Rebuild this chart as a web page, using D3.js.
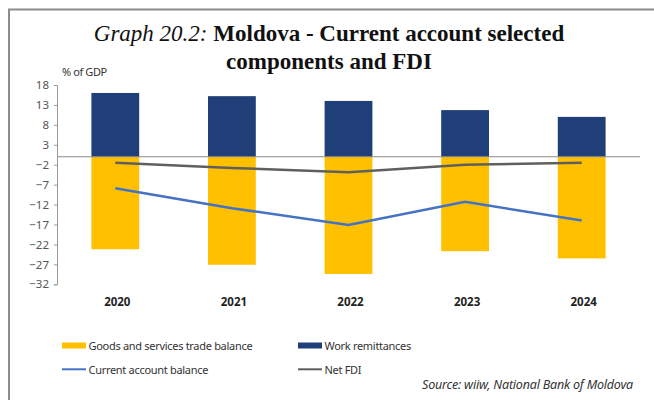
<!DOCTYPE html>
<html><head><meta charset="utf-8">
<script src="https://cdn.jsdelivr.net/npm/d3@7"></script>
<style>body{margin:0;background:#fff}svg{display:block}</style>
</head><body>
<svg id="c" width="654" height="400"></svg>
<script>
const years = ["2020","2021","2022","2023","2024"];
const tradeBalance = [-23.2, -27.1, -29.4, -23.7, -25.5];
const remittances = [16.0, 15.2, 14.0, 11.7, 10.0];
const currentAccount = [-7.9, -12.9, -17.1, -11.3, -16.0];
const netFDI = [-1.5, -2.8, -3.9, -2.0, -1.5];
const yTicks = [18, 13, 8, 3, -2, -7, -12, -17, -22, -27, -32];

(function(){
const svg = d3.select("#c");
const W = 654, H = 400;
const pLeft = 57, pRight = 640, pTop = 85, pBottom = 284.3;

// frame
svg.append("path").attr("d", `M9,${H} L9,9.5 L${W},9.5`).attr("fill","none").attr("stroke","#8c8c8c").attr("stroke-width",2);

// title
const serif = "'Liberation Serif', 'Times New Roman', serif";
const t1 = svg.append("text").attr("x", 329).attr("y", 41).attr("text-anchor","middle")
  .attr("font-family", serif).attr("font-size", 23).attr("fill","#111");
t1.append("tspan").attr("font-style","italic").text("Graph 20.2: ");
t1.append("tspan").attr("font-weight","bold").text("Moldova - Current account selected");
svg.append("text").attr("x", 329).attr("y", 69).attr("text-anchor","middle")
  .attr("font-family", serif).attr("font-size", 23)
  .attr("font-weight","bold").attr("fill","#111").text("components and FDI");

const lf = "'Noto Sans', sans-serif";
svg.append("text").attr("x", 62).attr("y", 76).attr("font-family", lf)
  .attr("font-size", 11).attr("fill","#333").attr("letter-spacing","-0.4").text("% of GDP");

const x = d3.scaleBand().domain(years).range([pLeft, pRight]).paddingInner(0.59).paddingOuter(0.295);
const y = d3.scaleLinear().domain([-32, 18]).range([pBottom, pTop]);

// bars
const g = svg.append("g");
g.selectAll("rect.tb").data(years).join("rect").attr("class","tb")
  .attr("x", d => x(d)).attr("width", x.bandwidth())
  .attr("y", y(0)).attr("height", (d,i) => y(tradeBalance[i]) - y(0)).attr("fill", "#FFC000");
g.selectAll("rect.wr").data(years).join("rect").attr("class","wr")
  .attr("x", d => x(d)).attr("width", x.bandwidth())
  .attr("y", (d,i) => y(remittances[i])).attr("height", (d,i) => y(0) - y(remittances[i])).attr("fill", "#203E78");

// zero line
svg.append("line").attr("x1", pLeft).attr("x2", pRight).attr("y1", y(0)).attr("y2", y(0))
  .attr("stroke","#8a8a8a").attr("stroke-width",1.2);

// lines
const line = d3.line().x((d,i) => x(years[i]) + x.bandwidth()/2).y(d => y(d));
svg.append("path").datum(netFDI).attr("d", line).attr("fill","none").attr("stroke","#5f5f5f").attr("stroke-width",2.5);
svg.append("path").datum(currentAccount).attr("d", line).attr("fill","none").attr("stroke","#4472C4").attr("stroke-width",2.5);

// y axis
const ya = svg.append("g").attr("transform", `translate(${pLeft},0)`)
  .call(d3.axisLeft(y).tickValues(yTicks).tickSize(3).tickSizeOuter(3));
ya.select(".domain").attr("stroke","#999");
ya.selectAll(".tick line").attr("stroke","#999");
ya.selectAll("text").attr("font-family", lf).attr("font-size", 11.5)
  .attr("fill","#555").attr("dx", -2);

// x labels
svg.append("g").selectAll("text").data(years).join("text")
  .attr("x", d => x(d) + x.bandwidth()/2 + 2).attr("y", 306).attr("text-anchor","middle")
  .attr("font-family", lf).attr("font-size", 11.5).attr("font-weight","bold")
  .attr("fill","#222").text(d => d);

// legend
const leg = svg.append("g").attr("font-family", lf).attr("font-size", 11).attr("fill","#333").attr("letter-spacing","-0.3");
leg.append("rect").attr("x", 62).attr("y", 342.5).attr("width", 24).attr("height", 6).attr("fill","#FFC000");
leg.append("text").attr("x", 88.5).attr("y", 349.5).text("Goods and services trade balance");
leg.append("rect").attr("x", 298).attr("y", 342.5).attr("width", 24).attr("height", 6).attr("fill","#203E78");
leg.append("text").attr("x", 324.5).attr("y", 349.5).text("Work remittances");
leg.append("line").attr("x1", 62).attr("x2", 86).attr("y1", 369.3).attr("y2", 369.3).attr("stroke","#4472C4").attr("stroke-width",2);
leg.append("text").attr("x", 88.5).attr("y", 373.5).text("Current account balance");
leg.append("line").attr("x1", 298).attr("x2", 322).attr("y1", 369.3).attr("y2", 369.3).attr("stroke","#5f5f5f").attr("stroke-width",2);
leg.append("text").attr("x", 324.5).attr("y", 373.5).text("Net FDI");

svg.append("text").attr("x", 633).attr("y", 389).attr("text-anchor","end")
  .attr("font-family", lf).attr("font-size", 12.5).attr("font-style","italic").attr("fill","#333")
  .attr("letter-spacing","-0.2").text("Source: wiiw, National Bank of Moldova");
})();
</script>
</body></html>
